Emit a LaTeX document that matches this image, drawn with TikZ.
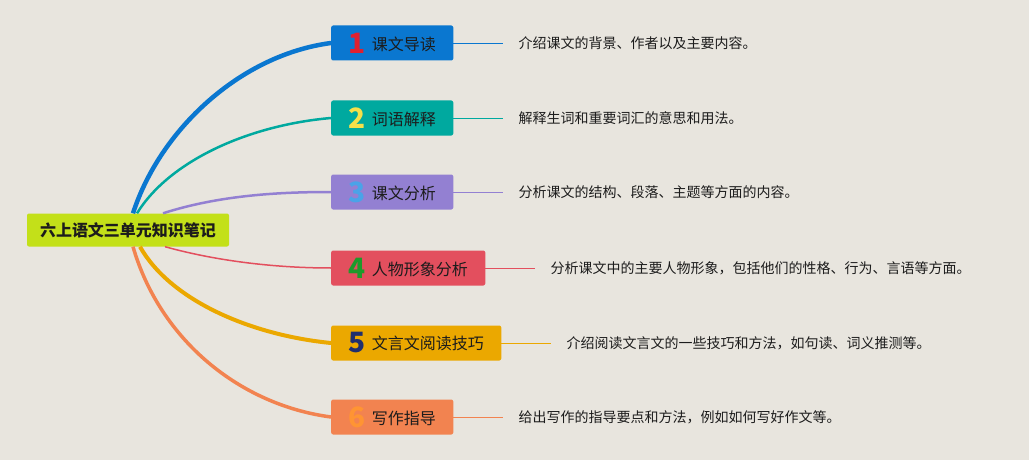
\documentclass[tikz,border=0pt]{standalone}
\usepackage{fontspec}
\setmainfont{Noto Sans CJK SC}
\usetikzlibrary{positioning}
\definecolor{MMPaper}{HTML}{E8E5DE}
\definecolor{MMLime}{HTML}{C3E019}
\definecolor{MMBlue}{HTML}{0A77D0}
\definecolor{MMTeal}{HTML}{00A99F}
\definecolor{MMPurple}{HTML}{9380D2}
\definecolor{MMRed}{HTML}{E34F5E}
\definecolor{MMAmber}{HTML}{EBA800}
\definecolor{MMOrange}{HTML}{F28350}
\definecolor{MMInk}{HTML}{1C1C1C}
\definecolor{NumRed}{HTML}{E0202F}
\definecolor{NumYellow}{HTML}{F5E04A}
\definecolor{NumBlue}{HTML}{4AA3E8}
\definecolor{NumGreen}{HTML}{1E9A2B}
\definecolor{NumNavy}{HTML}{1F2F6E}
\definecolor{NumOrange}{HTML}{FF9433}
\newcommand{\topicnum}[2]{\raisebox{-3pt}{\fontsize{28pt}{28pt}\selectfont\bfseries\color{#1}#2}\hspace{6pt}}
\tikzset{
  mmBase/.style={
    text=MMInk,
    rounded corners=2pt
  },
  mmRoot/.style={
    mmBase,
    fill=MMLime,
    font=\fontsize{16pt}{18pt}\selectfont\bfseries,
    minimum height=33pt,
    inner xsep=13pt
  },
  mmTopic/.style={
    mmBase,
    anchor=west,
    font=\fontsize{16pt}{18pt}\selectfont,
    minimum height=35pt,
    inner xsep=17.5pt,
    inner ysep=0pt
  },
  mmNote/.style={
    font=\fontsize{14pt}{16pt}\selectfont,
    text=MMInk,
    inner xsep=15pt,
    inner ysep=0pt,
    right=50pt of #1
  },
  mmLink/.style={
    line width=0.8pt
  }
}

\begin{document}
\begin{tikzpicture}[x=1pt,y=-1pt]
  \fill[MMPaper] (0,0) rectangle (1029,460);
  \useasboundingbox (0,0) rectangle (1029,460);

  \node (root) [mmRoot] at (128,230) {六上语文三单元知识笔记};

  \node (b1) [mmTopic, fill=MMBlue] at (331,43) {\topicnum{NumRed}{1}课文导读};
  \node (b2) [mmTopic, fill=MMTeal] at (331,118) {\topicnum{NumYellow}{2}词语解释};
  \node (b3) [mmTopic, fill=MMPurple] at (331,192) {\topicnum{NumBlue}{3}课文分析};
  \node (b4) [mmTopic, fill=MMRed] at (331,268) {\topicnum{NumGreen}{4}人物形象分析};
  \node (b5) [mmTopic, fill=MMAmber] at (331,343) {\topicnum{NumNavy}{5}文言文阅读技巧};
  \node (b6) [mmTopic, fill=MMOrange] at (331,417) {\topicnum{NumOrange}{6}写作指导};

  \node (d1) [mmNote=b1] {介绍课文的背景、作者以及主要内容。};
  \node (d2) [mmNote=b2] {解释生词和重要词汇的意思和用法。};
  \node (d3) [mmNote=b3] {分析课文的结构、段落、主题等方面的内容。};
  \node (d4) [mmNote=b4] {分析课文中的主要人物形象，包括他们的性格、行为、言语等方面。};
  \node (d5) [mmNote=b5] {介绍阅读文言文的一些技巧和方法，如句读、词义推测等。};
  \node (d6) [mmNote=b6] {给出写作的指导要点和方法，例如如何写好作文等。};

  % branches from the root
  \draw [MMBlue, line width=4.5pt] ([xshift=5pt]root.north) .. controls (160,130) and (240,55) .. (b1.west);
  \draw [MMTeal, line width=2.5pt] ([xshift=9pt]root.north) .. controls (170,160) and (250,125) .. (b2.west);
  \draw [MMPurple, line width=2.5pt] ([xshift=35pt]root.north) .. controls (220,195) and (280,192) .. (b3.west);
  \draw [MMRed, line width=1.5pt] ([xshift=37pt]root.south) .. controls (220,262) and (280,268) .. (b4.west);
  \draw [MMAmber, line width=4pt] ([xshift=12pt]root.south) .. controls (170,300) and (250,335) .. (b5.west);
  \draw [MMOrange, line width=3.5pt] ([xshift=5pt]root.south) .. controls (160,340) and (240,405) .. (b6.west);

  \draw [mmLink, MMBlue] (b1.east) -- (d1.west);
  \draw [mmLink, MMTeal] (b2.east) -- (d2.west);
  \draw [mmLink, MMPurple] (b3.east) -- (d3.west);
  \draw [mmLink, MMRed] (b4.east) -- (d4.west);
  \draw [mmLink, MMAmber] (b5.east) -- (d5.west);
  \draw [mmLink, MMOrange] (b6.east) -- (d6.west);
\end{tikzpicture}
\end{document}
